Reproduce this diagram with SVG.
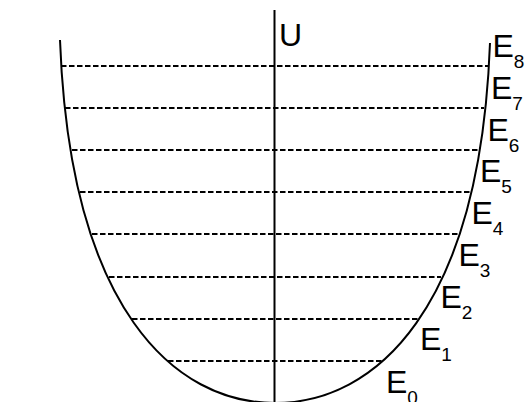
<svg xmlns="http://www.w3.org/2000/svg" width="532" height="402" viewBox="0 0 532 402">
<style>
.lvl{stroke:#000;stroke-width:1.9;stroke-dasharray:5.5,2.5;fill:none}
.ln{stroke:#000;stroke-width:2;fill:none}
text{font-family:"Liberation Sans",Arial,sans-serif;fill:#000}
.b{font-size:32px}
.s{font-size:19px}
</style>
<rect width="532" height="402" fill="#fff"/>
<g id="levels">
<line class="lvl" x1="61" y1="66" x2="489" y2="66"/>
<line class="lvl" x1="65" y1="108" x2="484" y2="108"/>
<line class="lvl" x1="72" y1="150" x2="478" y2="150"/>
<line class="lvl" x1="80" y1="192" x2="470" y2="192"/>
<line class="lvl" x1="92" y1="234" x2="458" y2="234"/>
<line class="lvl" x1="109" y1="277" x2="441" y2="277"/>
<line class="lvl" x1="132" y1="319" x2="419" y2="319"/>
<line class="lvl" x1="168" y1="361" x2="382" y2="361"/>
</g>
<g id="potential">
<path class="ln" d="M60,40 C70,310 175,403 275,403 C375,403 480,310 490,43"/>
</g>
<g id="axis">
<line class="ln" x1="274.5" y1="10" x2="274.5" y2="402"/>
<text class="b" x="279" y="46">U</text>
</g>
<g id="labels">
<text class="b" x="492.5" y="57">E<tspan class="s" dy="10.5">8</tspan></text>
<text class="b" x="491" y="99">E<tspan class="s" dy="10.5">7</tspan></text>
<text class="b" x="487.5" y="141">E<tspan class="s" dy="10.5">6</tspan></text>
<text class="b" x="480" y="182">E<tspan class="s" dy="10.5">5</tspan></text>
<text class="b" x="471.5" y="224">E<tspan class="s" dy="10.5">4</tspan></text>
<text class="b" x="458.5" y="266">E<tspan class="s" dy="10.5">3</tspan></text>
<text class="b" x="440.5" y="308">E<tspan class="s" dy="10.5">2</tspan></text>
<text class="b" x="420" y="350">E<tspan class="s" dy="10.5">1</tspan></text>
<text class="b" x="386" y="393">E<tspan class="s" dy="10.5">0</tspan></text>
</g>
</svg>
